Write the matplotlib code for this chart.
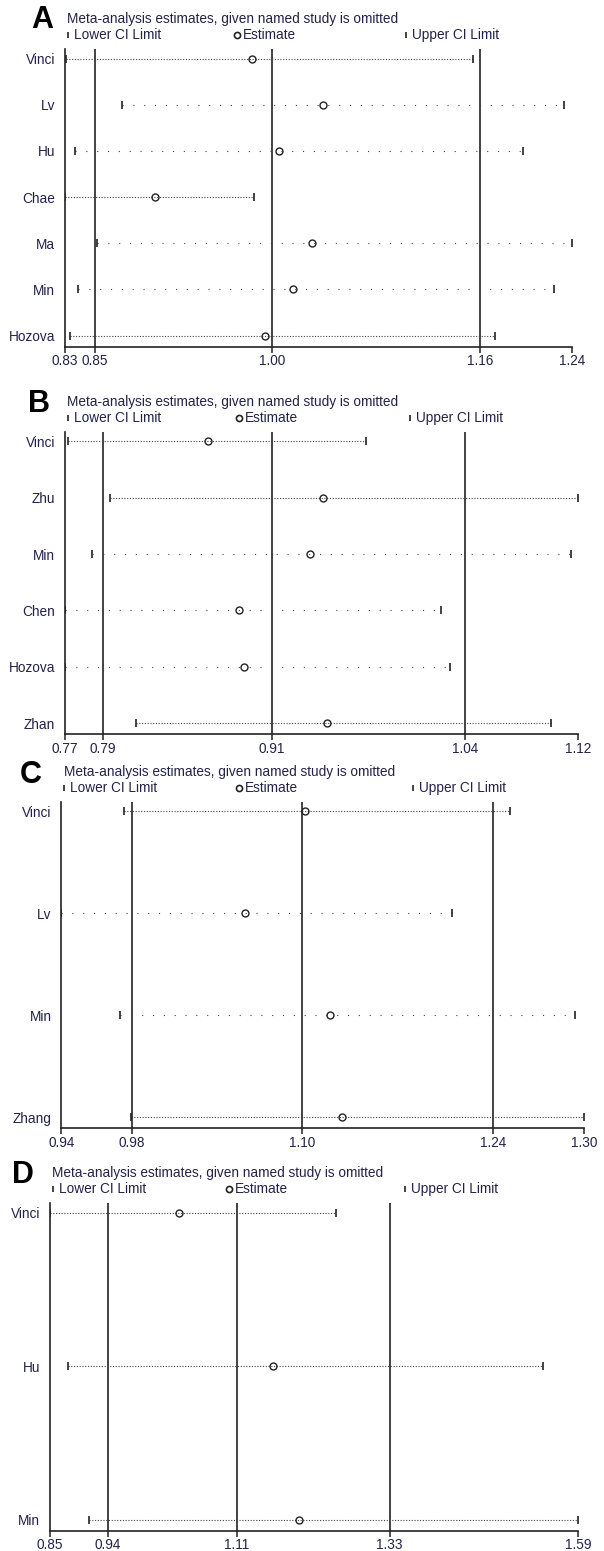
import matplotlib
matplotlib.use('Agg')
import matplotlib.pyplot as plt

plt.rcParams['font.family'] = ['Liberation Sans', 'DejaVu Sans']
plt.rcParams['lines.scale_dashes'] = False

# ---- data ----
# A
a_studies = ['Vinci', 'Lv', 'Hu', 'Chae', 'Ma', 'Min', 'Hozova']
a_lower = [0.831, 0.876, 0.838, 0.8295, 0.8555, 0.840, 0.834]
a_est = [0.980, 1.037, 1.002, 0.9025, 1.0286, 1.0131, 0.9902]
a_upper = [1.158, 1.231, 1.198, 0.982, 1.2375, 1.223, 1.175]
a_overall = [0.8536, 0.9964, 1.1633]   # lower CI, estimate, upper CI

# B
b_studies = ['Vinci', 'Zhu', 'Min', 'Chen', 'Hozova', 'Zhan']
b_lower = [0.7694, 0.7981, 0.786, 0.767, 0.7675, 0.8163]
b_est = [0.8657, 0.9443, 0.9354, 0.8868, 0.8899, 0.9469]
b_upper = [0.9736, 1.119, 1.1147, 1.0253, 1.0314, 1.1008]
b_overall = [0.7931, 0.9092, 1.0419]

# C
c_studies = ['Vinci', 'Lv', 'Min', 'Zhang']
c_lower = [0.9788, 0.9353, 0.9764, 0.9842]
c_est = [1.1054, 1.0633, 1.1229, 1.131]
c_upper = [1.2483, 1.2083, 1.2939, 1.3003]
c_overall = [0.9846, 1.1036, 1.2367]

# D
d_studies = ['Vinci', 'Hu', 'Min']
d_lower = [0.854, 0.8802, 0.909]
d_est = [1.0342, 1.1642, 1.2006]
d_upper = [1.2525, 1.5409, 1.589]
d_overall = [0.9354, 1.1145, 1.3269]

# rows whose dotted line looks sparse in the original
sparse = {'A': ['Lv', 'Hu', 'Ma', 'Min'], 'B': ['Min', 'Chen', 'Hozova'],
          'C': ['Lv', 'Min'], 'D': []}

W, H = 604, 1551
# axes box in pixels: left, right, top, bottom ; letter x, letter y
layout = {
    'A': (64.6, 572.3, 49.0, 346.7, 31, 20),
    'B': (64.6, 577.7, 431.7, 734.3, 28, 404),
    'C': (61.2, 584.2, 801.7, 1128.3, 20, 775),
    'D': (49.6, 578.0, 1203.3, 1530.7, 12, 1175),
}

panels = [
    ('A', a_studies, a_lower, a_est, a_upper, a_overall),
    ('B', b_studies, b_lower, b_est, b_upper, b_overall),
    ('C', c_studies, c_lower, c_est, c_upper, c_overall),
    ('D', d_studies, d_lower, d_est, d_upper, d_overall),
]

txt_col = '#22224a'
line_col = '#222222'
dot_col = '#444444'
fs = 9.8

fig = plt.figure(figsize=(W / 100, H / 100), dpi=100)


def fx(x):
    return x / W


def fy(y):
    return 1 - y / H


for name, studies, lo, est, up, overall in panels:
    l, r, t, b, lx, ly = layout[name]
    ax = fig.add_axes([fx(l), fy(b), fx(r) - fx(l), fy(t) - fy(b)])
    n = len(studies)
    rows = list(range(n))

    # fixed pixel padding above first and below last row
    spacing = (b - t - 20.5) / (n - 1)
    ax.set_ylim(n - 1 + 11 / spacing, -9.5 / spacing)
    xmin, xmax = min(lo), max(up)
    ax.set_xlim(xmin, xmax)

    for v in overall:
        ax.axvline(v, color=line_col, lw=1.2, zorder=1)

    for i in rows:
        ls = (0, (0.8, 7)) if studies[i] in sparse[name] else (0, (0.8, 1.2))
        ax.plot([lo[i], up[i]], [i, i], color=dot_col, lw=0.8, ls=ls, zorder=2)
        ax.plot([lo[i], up[i]], [i, i], ls='none', marker='|', ms=5.5,
                mew=1.2, color=line_col, zorder=3)
        ax.plot([est[i]], [i], ls='none', marker='o', ms=5.0, mfc='none',
                mec=line_col, mew=1.0, zorder=4)

    ticks = [xmin] + list(overall) + [xmax]
    ax.set_xticks(ticks)
    ax.set_xticklabels(['%.2f' % v for v in ticks])
    ax.set_yticks(rows)
    ax.set_yticklabels(studies)
    ax.tick_params(axis='x', direction='out', length=4, width=1.1,
                   color=line_col, labelsize=fs, labelcolor=txt_col, pad=1.5)
    ax.tick_params(axis='y', length=0, labelsize=fs, labelcolor=txt_col, pad=7)
    for s in ['top', 'right']:
        ax.spines[s].set_visible(False)
    for s in ['left', 'bottom']:
        ax.spines[s].set_color(line_col)
        ax.spines[s].set_linewidth(1.2)

    # panel letter, title, legend row
    fig.text(fx(lx), fy(ly), name, fontsize=22, fontweight='bold',
             color='black', ha='left', va='center')
    wpx = r - l
    fig.text(fx(l + 0.005 * wpx), fy(t - 30), 'Meta-analysis estimates, given named study is omitted',
             fontsize=fs, color=txt_col, ha='left', va='center')
    ly2 = t - 14
    keys = [(0.006, '|', 'Lower CI Limit'), (0.340, 'o', 'Estimate'),
            (0.673, '|', 'Upper CI Limit')]
    for frac, mk, label in keys:
        kx = l + frac * wpx
        fig.add_artist(plt.Line2D([fx(kx)], [fy(ly2)], marker=mk,
                                  ms=4.4 if mk == 'o' else 5, mfc='none',
                                  mec=line_col, mew=1.2, ls='none',
                                  transform=fig.transFigure))
        fig.text(fx(kx + 6), fy(ly2), label, fontsize=fs, color=txt_col,
                 ha='left', va='center')

fig.savefig('out.png', dpi=100)
